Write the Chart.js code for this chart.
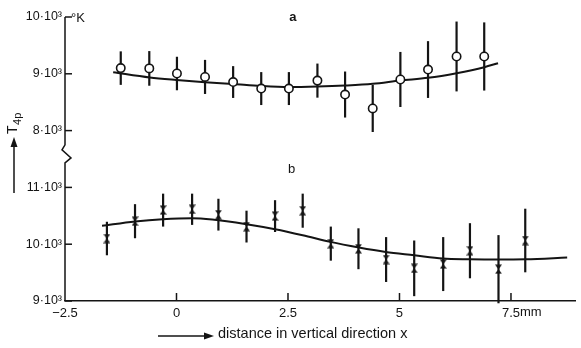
<!DOCTYPE html>
<html>
<head>
<meta charset="utf-8">
<script src="https://cdn.jsdelivr.net/npm/chart.js@4/dist/chart.umd.min.js"></script>
<style>
  html, body { margin: 0; padding: 0; background: #fff; }
  #wrap { width: 581px; height: 348px; }
</style>
</head>
<body>
<div id="wrap"><canvas id="c" width="581" height="348"></canvas></div>
<script>
// Panel a: measured temperatures (open circles), x in mm, T in K, ± error
const aX   = [-1.25, -0.61, 0.01, 0.64, 1.27, 1.90, 2.52, 3.16, 3.78, 4.40, 5.02, 5.64, 6.28, 6.90];
const aT   = [9100, 9095, 9005, 8945, 8855, 8740, 8740, 8880, 8635, 8390, 8900, 9075, 9305, 9305];
const aErr = [295, 305, 295, 300, 280, 290, 290, 300, 405, 415, 485, 500, 615, 600];
// Panel a: fitted curve
const aFitX = [-1.42, -0.60, 0.00, 0.64, 1.27, 1.90, 2.52, 3.16, 3.78, 4.40, 5.02, 5.64, 6.28, 6.90, 7.21];
const aFitT = [9028, 8935, 8891, 8852, 8820, 8785, 8767, 8776, 8794, 8824, 8882, 8929, 9011, 9116, 9187];

// Panel b: measured temperatures (crosses)
const bX   = [-1.56, -0.93, -0.30, 0.35, 0.94, 1.57, 2.21, 2.83, 3.46, 4.08, 4.70, 5.33, 5.98, 6.58, 7.22, 7.82];
const bT   = [10100, 10405, 10600, 10615, 10520, 10310, 10495, 10590, 10010, 9920, 9730, 9575, 9650, 9885, 9560, 10065];
const bErr = [295, 300, 290, 275, 280, 280, 280, 300, 300, 360, 395, 490, 475, 485, 600, 560];
// Panel b: fitted curve
const bFitX = [-1.67, -0.93, -0.31, 0.35, 0.80, 1.57, 2.21, 2.83, 3.45, 4.09, 4.69, 5.33, 5.97, 6.57, 7.21, 7.83, 8.76];
const bFitT = [10323, 10400, 10441, 10459, 10436, 10353, 10265, 10159, 10041, 9942, 9864, 9806, 9748, 9735, 9730, 9735, 9765];

// Axis ticks
const xTicks      = [-2.5, 0, 2.5, 5, 7.5];
const xTickLabels = ['\u22122.5', '0', '2.5', '5', '7.5'];
const yTicks      = [9000, 10000, 11000, 12000, 13000, 14000];
const yTickLabels = ['9\u00b710\u00b3', '10\u00b710\u00b3', '11\u00b710\u00b3', '8\u00b710\u00b3', '9\u00b710\u00b3', '10\u00b710\u00b3'];

// Panel a sits above panel b on one broken temperature axis
const A_SHIFT = 4000;
const BREAK_AT = 11590;

const INK = '#141414';
const FAMILY = "'Liberation Sans', Arial, sans-serif";

// small filled bow-tie used for the panel b points
function hourglass() {
  const c = document.createElement('canvas');
  c.width = 7; c.height = 10;
  const g = c.getContext('2d');
  g.fillStyle = INK;
  g.beginPath();
  g.moveTo(0, 0.5); g.lineTo(7, 0.5); g.lineTo(3.5, 5); g.closePath();
  g.moveTo(0, 9.5); g.lineTo(7, 9.5); g.lineTo(3.5, 5); g.closePath();
  g.fill();
  return c;
}

const pts = (xs, ys, shift) => xs.map((x, i) => ({ x: x, y: ys[i] + shift }));

// vertical error bars drawn underneath the markers
const errorBars = {
  id: 'errorBars',
  beforeDatasetsDraw(chart) {
    const { ctx, scales: { x, y } } = chart;
    ctx.save();
    ctx.strokeStyle = INK;
    ctx.lineWidth = 2.2;
    chart.data.datasets.forEach(ds => {
      if (!ds.errors) return;
      ds.data.forEach((p, i) => {
        const px = x.getPixelForValue(p.x);
        ctx.beginPath();
        ctx.moveTo(px, y.getPixelForValue(p.y + ds.errors[i]));
        ctx.lineTo(px, y.getPixelForValue(p.y - ds.errors[i]));
        ctx.stroke();
      });
    });
    ctx.restore();
  }
};

// broken y axis, inward ticks, unit, titles and panel letters
const decorations = {
  id: 'decorations',
  afterDraw(chart) {
    const { ctx, chartArea: a, scales: { x, y } } = chart;
    const L = a.left;
    ctx.save();
    ctx.strokeStyle = INK;
    ctx.fillStyle = INK;
    ctx.lineWidth = 1.5;

    // y axis with break mark
    const pb = y.getPixelForValue(BREAK_AT);
    ctx.beginPath();
    ctx.moveTo(L, a.top);
    ctx.lineTo(L, pb - 9);
    ctx.lineTo(L - 3, pb - 4);
    ctx.lineTo(L + 6, pb + 4);
    ctx.lineTo(L, pb + 9);
    ctx.lineTo(L, a.bottom);
    ctx.stroke();

    // y ticks pointing inward
    yTicks.forEach(v => {
      const py = y.getPixelForValue(v);
      ctx.beginPath(); ctx.moveTo(L, py); ctx.lineTo(L + 7, py); ctx.stroke();
    });
    // x ticks pointing inward
    xTicks.forEach(v => {
      if (v === x.min) return;
      const px = x.getPixelForValue(v);
      ctx.beginPath(); ctx.moveTo(px, a.bottom); ctx.lineTo(px, a.bottom - 8); ctx.stroke();
    });

    // unit next to the top tick
    ctx.font = '13px ' + FAMILY;
    ctx.textAlign = 'left';
    ctx.textBaseline = 'middle';
    ctx.fillText('\u00b0K', L + 6, y.getPixelForValue(14000) + 1);

    // "mm" after the last x tick label
    ctx.font = '13px ' + FAMILY;
    const last = xTicks[xTicks.length - 1];
    const lw = ctx.measureText(xTickLabels[xTickLabels.length - 1]).width;
    ctx.textBaseline = 'top';
    ctx.fillText('mm', x.getPixelForValue(last) + lw / 2, a.bottom + 5);

    // panel letters
    ctx.font = 'bold 13px ' + FAMILY;
    ctx.textAlign = 'center';
    ctx.textBaseline = 'middle';
    ctx.fillText('a', x.getPixelForValue(2.61), y.getPixelForValue(13985));
    ctx.font = '13px ' + FAMILY;
    ctx.fillText('b', x.getPixelForValue(2.58), y.getPixelForValue(11320));

    // x title with arrow
    const ty = 336;
    ctx.lineWidth = 1.5;
    ctx.beginPath(); ctx.moveTo(158, ty); ctx.lineTo(206, ty); ctx.stroke();
    ctx.beginPath(); ctx.moveTo(214, ty); ctx.lineTo(204, ty - 3.5); ctx.lineTo(204, ty + 3.5); ctx.closePath(); ctx.fill();
    ctx.font = '14.5px ' + FAMILY;
    ctx.textAlign = 'left';
    ctx.textBaseline = 'alphabetic';
    ctx.fillText('distance in vertical direction x', 218, 338);

    // y title with arrow
    ctx.beginPath(); ctx.moveTo(14, 193); ctx.lineTo(14, 146); ctx.stroke();
    ctx.beginPath(); ctx.moveTo(14, 137); ctx.lineTo(10.5, 147); ctx.lineTo(17.5, 147); ctx.closePath(); ctx.fill();
    ctx.save();
    ctx.translate(17, 134);
    ctx.rotate(-Math.PI / 2);
    ctx.textAlign = 'left';
    ctx.textBaseline = 'alphabetic';
    ctx.font = '14px ' + FAMILY;
    ctx.fillText('T', 0, 0);
    const tw = ctx.measureText('T').width;
    ctx.font = '11px ' + FAMILY;
    ctx.fillText('4p', tw + 0.5, 4);
    ctx.restore();

    ctx.restore();
  }
};

new Chart(document.getElementById('c'), {
  type: 'scatter',
  data: {
    datasets: [
      {
        label: 'a',
        data: pts(aX, aT, A_SHIFT),
        errors: aErr,
        pointStyle: 'circle',
        pointRadius: 4.2,
        pointBackgroundColor: '#ffffff',
        pointBorderColor: INK,
        pointBorderWidth: 1.6,
        order: 0
      },
      {
        label: 'b',
        data: pts(bX, bT, 0),
        errors: bErr,
        pointStyle: hourglass(),
        order: 0
      },
      {
        label: 'a fit',
        data: pts(aFitX, aFitT, A_SHIFT),
        showLine: true,
        borderColor: INK,
        borderWidth: 2,
        pointRadius: 0,
        cubicInterpolationMode: 'monotone',
        fill: false,
        order: 1
      },
      {
        label: 'b fit',
        data: pts(bFitX, bFitT, 0),
        showLine: true,
        borderColor: INK,
        borderWidth: 2,
        pointRadius: 0,
        cubicInterpolationMode: 'monotone',
        fill: false,
        order: 1
      }
    ]
  },
  options: {
    responsive: false,
    animation: false,
    devicePixelRatio: 1,
    layout: { padding: { top: 17, right: 0, left: 0, bottom: 0 } },
    plugins: { legend: { display: false }, tooltip: { enabled: false } },
    scales: {
      x: {
        type: 'linear',
        min: -2.5,
        max: 8.94,
        grid: { display: false, drawTicks: false },
        border: { display: true, color: INK, width: 1.5 },
        afterBuildTicks: s => { s.ticks = xTicks.map(v => ({ value: v })); },
        afterFit: s => { s.height = 47; },
        ticks: {
          autoSkip: false,
          maxRotation: 0,
          padding: 5,
          color: INK,
          font: { size: 13, family: FAMILY },
          callback: v => xTickLabels[xTicks.indexOf(v)]
        }
      },
      y: {
        type: 'linear',
        min: 9000,
        max: 14000,
        grid: { display: false, drawTicks: false },
        border: { display: false },
        afterBuildTicks: s => { s.ticks = yTicks.map(v => ({ value: v })); },
        afterFit: s => { s.width = 65; },
        ticks: {
          autoSkip: false,
          padding: 3,
          color: INK,
          font: { size: 12.5, family: FAMILY },
          callback: v => yTickLabels[yTicks.indexOf(v)]
        }
      }
    }
  },
  plugins: [errorBars, decorations]
});
</script>
</body>
</html>
